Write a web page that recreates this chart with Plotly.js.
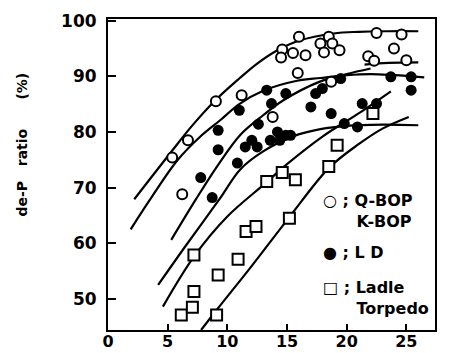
<!DOCTYPE html>
<html><head><meta charset="utf-8">
<script src="https://cdn.plot.ly/plotly-3.0.1.min.js"></script>
<style>html,body{margin:0;padding:0;background:#fff}#chart{width:451px;height:353px}</style>
</head><body><div id="chart"></div>
<script>
// Q-BOP / K-BOP (open circles)
const qbopX = [5.38, 6.70, 6.22, 9.04, 11.2, 13.8, 14.6, 14.5, 15.5, 16.0, 16.55, 15.9, 17.8, 18.1, 18.5, 18.8, 19.4, 18.7, 21.8, 22.3, 22.5, 23.96, 24.6, 25.0];
const qbopY = [75.4, 78.5, 68.8, 85.5, 86.6, 82.7, 94.8, 93.4, 94.2, 97.1, 93.8, 90.6, 95.9, 94.3, 97.1, 95.9, 94.7, 89.0, 93.6, 92.8, 97.8, 95.0, 97.5, 92.9];
// LD (filled circles)
const ldX = [7.77, 8.73, 9.23, 9.23, 11.0, 10.84, 11.5, 12.05, 12.5, 12.6, 13.3, 13.7, 14.9, 13.6, 14.2, 14.4, 14.9, 15.3, 17.0, 17.4, 17.96, 19.5, 18.7, 19.8, 20.9, 21.3, 22.5, 23.7, 25.4, 25.4];
const ldY = [71.8, 68.2, 80.3, 76.8, 83.9, 74.4, 77.3, 78.5, 77.3, 81.4, 87.5, 85.1, 86.9, 78.5, 80.0, 78.5, 79.4, 79.4, 84.5, 86.9, 87.8, 89.6, 83.3, 81.5, 80.9, 85.1, 85.1, 89.9, 89.9, 87.5];
// Ladle / Torpedo (open squares)
const ladleX = [6.14, 7.07, 7.2, 7.2, 9.1, 9.23, 10.9, 11.57, 12.4, 13.3, 14.6, 15.7, 15.2, 18.5, 19.2, 22.2];
const ladleY = [47.1, 48.5, 51.3, 57.9, 47.1, 54.3, 57.1, 62.1, 63.0, 71.1, 72.7, 71.4, 64.5, 73.8, 77.6, 83.3];
// hand-drawn trend curves
const curve1X = [2.2, 3.5, 5.4, 7, 9, 11, 12.5, 14.2, 16, 18.9, 21, 23.5, 26];
const curve1Y = [67.9, 71.5, 76.7, 81.0, 85.7, 89.6, 92.3, 94.7, 96.4, 97.7, 98.0, 98.1, 98.1];
const curve2X = [1.9, 3.6, 5.85, 7.7, 9.4, 11, 13, 15.85, 17.8, 20, 22, 24, 26.5];
const curve2Y = [62.5, 68.1, 75.0, 79.1, 82.1, 85.0, 87.4, 89.2, 89.7, 90.2, 90.4, 90.2, 89.8];
const curve3X = [5.3, 7.4, 9.2, 11.1, 13, 14.7, 17.7, 20, 22];
const curve3Y = [60.6, 68.0, 74.0, 79.5, 83.0, 85.7, 89.0, 90.4, 91.4];
const curve4X = [4.2, 6.5, 9.4, 11.1, 13, 15.5, 17.8, 20, 23, 26];
const curve4Y = [52.5, 59.5, 68.1, 73.3, 76.5, 79.2, 80.5, 81.1, 81.3, 81.2];
const curve5X = [4.6, 7.2, 10, 13.2, 15, 18, 21.2, 23.7];
const curve5Y = [48.6, 57.6, 64.8, 70.8, 74.2, 79.2, 83.6, 87.3];
const curve6X = [7.8, 9.1, 12, 15.2, 18.5, 21, 23, 25.2];
const curve6Y = [44.4, 48.0, 55.8, 64.7, 73.5, 77.8, 80.6, 82.7];
const segQX = [21.5, 23.5, 26];
const segQY = [92.1, 92.4, 92.5];
// ticks
const xTicks = [0, 5, 10, 15, 20, 25];
const yTicks = [50, 60, 70, 80, 90, 100];
const legendTexts = [
  "\u25CB ; Q-BOP<br>\u00a0\u00a0\u00a0\u00a0\u00a0\u00a0K-BOP",
  "\u25CF ; L D",
  "\u25A1 ; Ladle<br>\u00a0\u00a0\u00a0\u00a0\u00a0\u00a0Torpedo"
];
const yTitle = "de-P\u00a0\u00a0\u00a0ratio\u00a0\u00a0\u00a0\u00a0\u00a0\u00a0(%)";

const FONT = "DejaVu Sans";
const curves = [[curve1X,curve1Y],[curve2X,curve2Y],[curve3X,curve3Y],[curve4X,curve4Y],[curve5X,curve5Y],[curve6X,curve6Y],[segQX,segQY]];
const traces = curves.map(c => ({
  x: c[0], y: c[1], type: 'scatter', mode: 'lines',
  line: {color: '#000', width: 2.2, shape: 'spline', smoothing: 1}, hoverinfo: 'skip', showlegend: false
}));
traces.push({x: qbopX, y: qbopY, type: 'scatter', mode: 'markers', showlegend: false,
  marker: {symbol: 'circle', size: 10, color: '#fff', line: {color: '#000', width: 2}}});
traces.push({x: ldX, y: ldY, type: 'scatter', mode: 'markers', showlegend: false,
  marker: {symbol: 'circle', size: 11, color: '#000', line: {color: '#000', width: 0}}});
traces.push({x: ladleX, y: ladleY, type: 'scatter', mode: 'markers', showlegend: false,
  marker: {symbol: 'square', size: 11, color: '#fff', line: {color: '#000', width: 2}}});

const legY = [0.383, 0.248, 0.1045];
const annotations = legendTexts.map((t, i) => ({
  text: t, xref: 'paper', yref: 'paper', x: 0.651, y: legY[i], xanchor: 'left', yanchor: 'middle',
  align: 'left', showarrow: false, font: {family: FONT, size: 16, color: '#000', weight: 'bold'}
}));
annotations.push({text: yTitle, xref: 'paper', yref: 'paper', x: -0.26, y: 0.5965, textangle: -90,
  xanchor: 'center', yanchor: 'middle', showarrow: false, font: {family: FONT, size: 14, color: '#000', weight: 'bold'}});

const layout = {
  width: 451, height: 353,
  margin: {l: 108, r: 16, t: 19, b: 23},
  paper_bgcolor: '#fff', plot_bgcolor: '#fff',
  showlegend: false,
  font: {family: FONT, color: '#000'},
  xaxis: {range: [0, 27.4], tickvals: xTicks, ticktext: xTicks.map(String), ticks: 'inside', ticklen: 6, tickwidth: 2,
    tickcolor: '#000', showline: true, linewidth: 2, linecolor: '#000', mirror: true, showgrid: false, zeroline: false,
    ticklabelstandoff: -4, tickfont: {family: FONT, size: 16, color: '#000', weight: 'bold'}},
  yaxis: {range: [44.4, 100.3], tickvals: yTicks, ticktext: yTicks.map(String), ticks: 'inside', ticklen: 8, tickwidth: 2,
    tickcolor: '#000', showline: true, linewidth: 2, linecolor: '#000', mirror: true, showgrid: false, zeroline: false,
    ticklabelstandoff: 6, tickfont: {family: FONT, size: 17, color: '#000', weight: 'bold'}},
  annotations: annotations
};
Plotly.newPlot('chart', traces, layout, {staticPlot: true, displayModeBar: false});
</script>
</body></html>
